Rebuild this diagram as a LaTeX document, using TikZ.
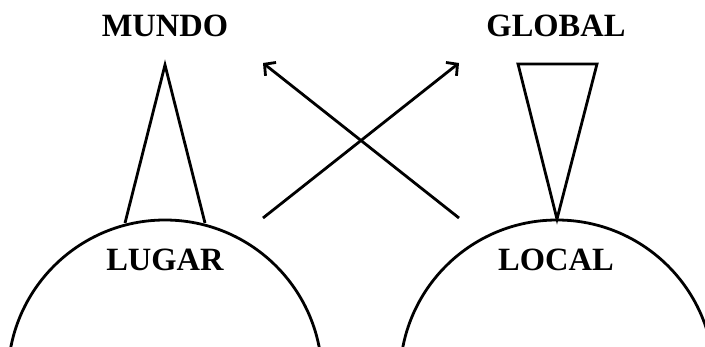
\documentclass[tikz,border=0pt]{standalone}
\usepackage{fontspec}
\setmainfont{Liberation Serif}
\usetikzlibrary{arrows.meta}
\begin{document}
\begin{tikzpicture}[x=1pt,y=-1pt,
  stroke/.style={line width=2.8pt,line join=miter},
  label/.style={font=\fontsize{32.5}{39}\selectfont\bfseries,inner sep=0pt,anchor=base},
  ring/.style={draw,line width=2.8pt,circle,minimum size=314pt,inner sep=0pt},
  arrowline/.style={stroke,-{Straight Barb[length=8pt,width=17pt,line width=2.8pt]}}]
\useasboundingbox (0,0) rectangle (705,347);
\clip (0,0) rectangle (705,347);

% the two half-visible spheres
\node[ring] (lugarball) at (165,377) {};
\node[ring] (localball) at (557,377) {};

% labels
\node[label] (mundo)  at (165,37)  {MUNDO};
\node[label] (global) at (556,37)  {GLOBAL};
\node[label] (lugar)  at (165,271) {LUGAR};
\node[label] (local)  at (556,271) {LOCAL};

% cone rising from the place towards the world
\coordinate (mundotip) at (165,65);
\coordinate (lugarL) at (125,223);
\coordinate (lugarR) at (205,223);
\draw[stroke] (lugarL) -- (mundotip) -- (lugarR);

% inverted cone from the global down to the local
\coordinate (globalL) at (518,64);
\coordinate (globalR) at (597,64);
\coordinate (localtip) at (557,219);
\draw[stroke] (globalL) -- (globalR) -- (localtip) -- cycle;

% crossing arrows
\coordinate (crossA1) at (459,218);
\coordinate (crossA2) at (263,63);
\coordinate (crossB1) at (263,218);
\coordinate (crossB2) at (459,63);
\draw[arrowline] (crossA1) -- (crossA2);
\draw[arrowline] (crossB1) -- (crossB2);
\end{tikzpicture}
\end{document}
